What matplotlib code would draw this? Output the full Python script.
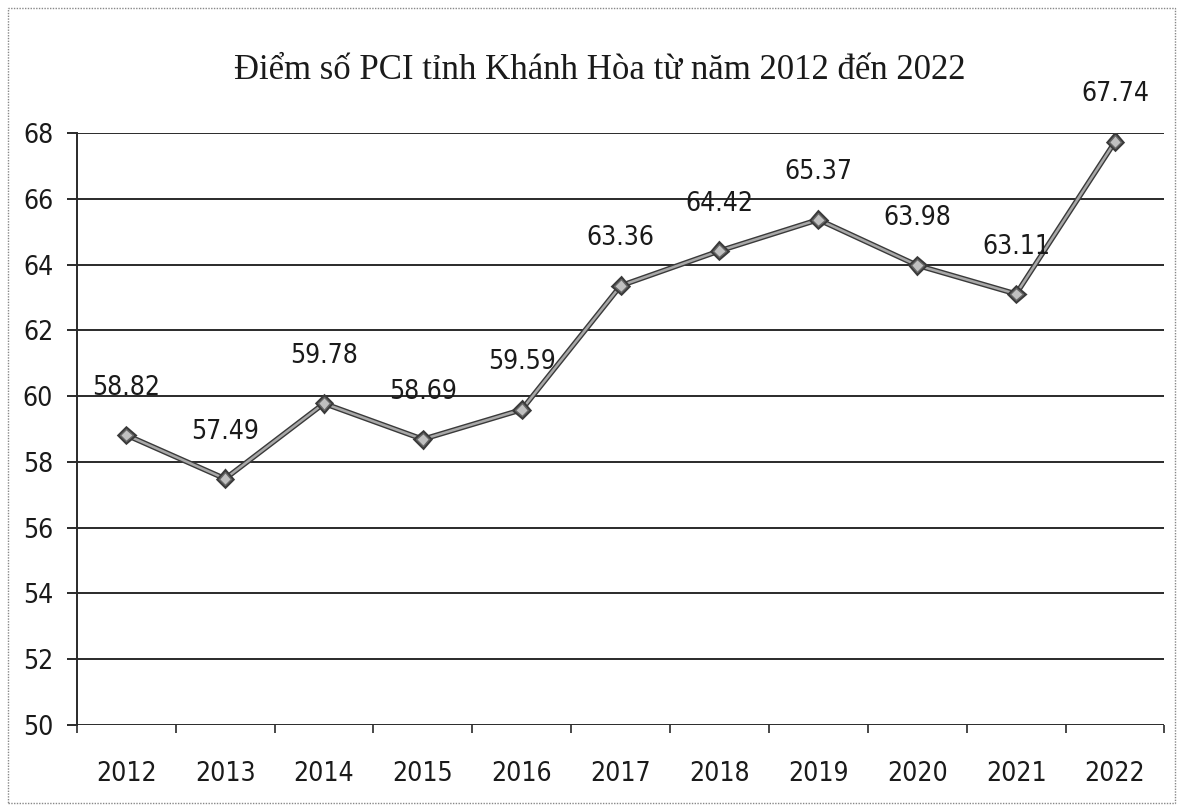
# Diem so PCI tinh Khanh Hoa 2012-2022, line chart redrawn from a scanned figure

import numpy as np
import matplotlib.pyplot as plt
import matplotlib.patheffects as pe
from matplotlib.patches import Rectangle

years = ['2012', '2013', '2014', '2015', '2016', '2017', '2018', '2019', '2020', '2021', '2022']
pci = [58.82, 57.49, 59.78, 58.69, 59.59, 63.36, 64.42, 65.37, 63.98, 63.11, 67.74]
yticks = [50, 52, 54, 56, 58, 60, 62, 64, 66, 68]
title = 'Điểm số PCI tỉnh Khánh Hòa từ năm 2012 đến 2022'

lab_font = dict(family=['DejaVu Sans'], stretch='condensed', fontsize=19, color='#1a1a1a')

fig = plt.figure(figsize=(11.81, 8.07), dpi=100)
ax = fig.add_axes([0.065, 0.1016, 0.921, 0.7334])

x = np.arange(len(years))

# grid lines
for v in yticks:
    ax.axhline(v, color='#2a2a2a', lw=1.4, zorder=1)

ax.plot(x, pci, color='#a8a8a8', lw=1.8, marker='D', ms=6.5,
        mfc='#c0c0c0', mec='#666666', mew=1.0, zorder=3,
        path_effects=[pe.Stroke(linewidth=3.8, foreground='#3a3a3a'), pe.Normal()])

for xi, v in zip(x, pci):
    ax.annotate('%.2f' % v, (xi, v), xytext=(0, 34), textcoords='offset points',
                ha='center', va='center', annotation_clip=False, zorder=4, **lab_font)

ax.set_xlim(-0.5, len(years) - 0.5)
ax.set_ylim(50, 68)

ax.set_yticks(yticks)
ax.set_yticklabels([str(v) for v in yticks], **lab_font)
ax.tick_params(axis='y', length=7, width=1.4, color='#2a2a2a', pad=10)

ax.set_xticks(np.arange(len(years) + 1) - 0.5)
ax.set_xticklabels([])
ax.set_xticks(x, minor=True)
ax.set_xticklabels(years, minor=True, **lab_font)
ax.tick_params(axis='x', which='major', length=6, width=1.2, color='#2a2a2a')
ax.tick_params(axis='x', which='minor', length=0, pad=26)

for s in ['top', 'right', 'bottom']:
    ax.spines[s].set_visible(False)
ax.spines['left'].set_color('#2a2a2a')
ax.spines['left'].set_linewidth(1.4)

fig.text(0.508, 0.913, title, ha='center', va='center', fontsize=25,
         family=['Liberation Serif', 'DejaVu Serif'], color='#1a1a1a')

# outer chart border
fig.patches.append(Rectangle((0.007, 0.005), 0.988, 0.985, transform=fig.transFigure,
                             fill=False, ec='#888888', lw=1.0, ls=(0, (1, 1))))

plt.savefig('out.png', dpi=100)
